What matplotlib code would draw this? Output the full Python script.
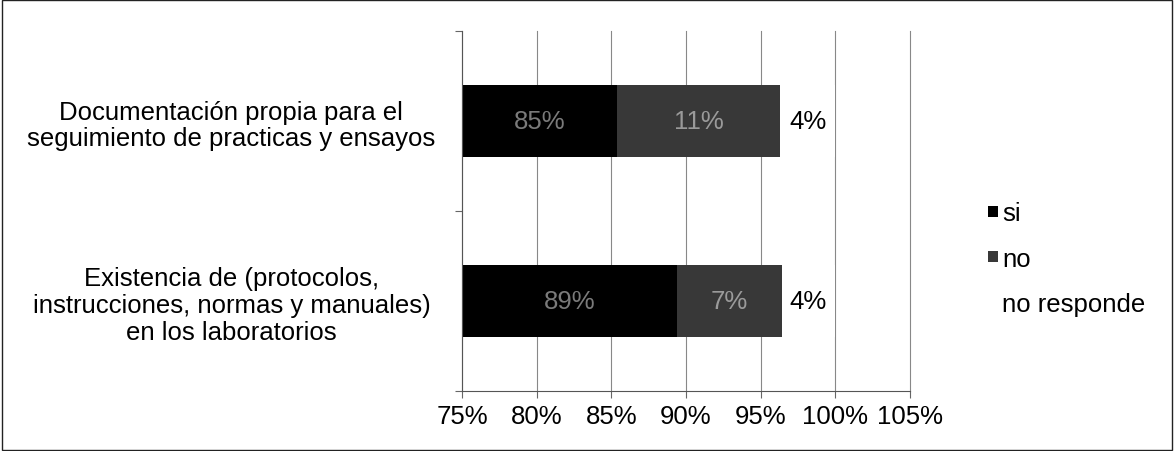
import matplotlib
matplotlib.use("Agg")
from matplotlib import pyplot as plt
from matplotlib.patches import Rectangle

plt.rcParams['font.family'] = ['Liberation Sans', 'DejaVu Sans']

categories = ["Existencia de (protocolos,\ninstrucciones, normas y manuales)\nen los laboratorios",
              "Documentación propia para el\nseguimiento de practicas y ensayos"]
si = [89.4, 85.4]
no = [7.0, 10.9]
no_responde = [3.6, 3.7]
x_ticks = [75, 80, 85, 90, 95, 100, 105]

FS = 18.5

fig = plt.figure(figsize=(11.74, 4.52), dpi=100)
fig.patches.append(Rectangle((0.002, 0.003), 0.996, 0.994, transform=fig.transFigure,
                             fill=False, edgecolor='#222222', linewidth=1.0))
ax = fig.add_axes([0.3935, 0.1327, 0.3816, 0.7965])

y = list(range(len(categories)))
h = 0.4
ax.barh(y, si, height=h, color='black', label='si', zorder=2)
ax.barh(y, no, height=h, left=si, color='#383838', label='no', zorder=2)
left2 = [a + b for a, b in zip(si, no)]
ax.barh(y, no_responde, height=h, left=left2, color='white', label='no responde', zorder=2)

for i in y:
    ax.text(75 + (si[i] - 75) / 2, i, f"{round(si[i])}%", ha='center', va='center',
            color='#7a7a7a', fontsize=FS, zorder=3)
    ax.text(si[i] + no[i] / 2, i, f"{round(no[i])}%", ha='center', va='center',
            color='#9a9a9a', fontsize=FS, zorder=3)
    ax.text(left2[i] + no_responde[i] / 2, i, f"{round(no_responde[i])}%", ha='center',
            va='center', color='black', fontsize=FS, zorder=3)

ax.set_xlim(75, 105)
ax.set_ylim(-0.5, 1.5)
ax.set_xticks(x_ticks)
ax.set_xticklabels([f"{t}%" for t in x_ticks], fontsize=FS)
ax.set_yticks([-0.5, 0.5, 1.5])
ax.set_yticklabels([])
ax.set_yticks(y, minor=True)
ax.set_yticklabels(categories, minor=True, fontsize=FS, ha='center', linespacing=1.15)
ax.tick_params(axis='y', which='minor', length=0, pad=166)
ax.tick_params(axis='y', which='major', length=5, color='#666666')
ax.tick_params(axis='x', length=5, color='#666666', pad=4)
ax.grid(axis='x', color='#888888', linewidth=0.8, zorder=0)
for gl in ax.get_xgridlines():
    gl.set_clip_on(False)
for s in ['top', 'right']:
    ax.spines[s].set_visible(False)
for s in ['left', 'bottom']:
    ax.spines[s].set_color('#555555')

ax.legend(loc='center left', bbox_to_anchor=(1.174, 0.368), frameon=False, fontsize=FS,
          borderpad=0, borderaxespad=0, handlelength=0.4, handleheight=0.3,
          handletextpad=0.15, labelspacing=0.82)

fig.savefig("out.png", dpi=100)
